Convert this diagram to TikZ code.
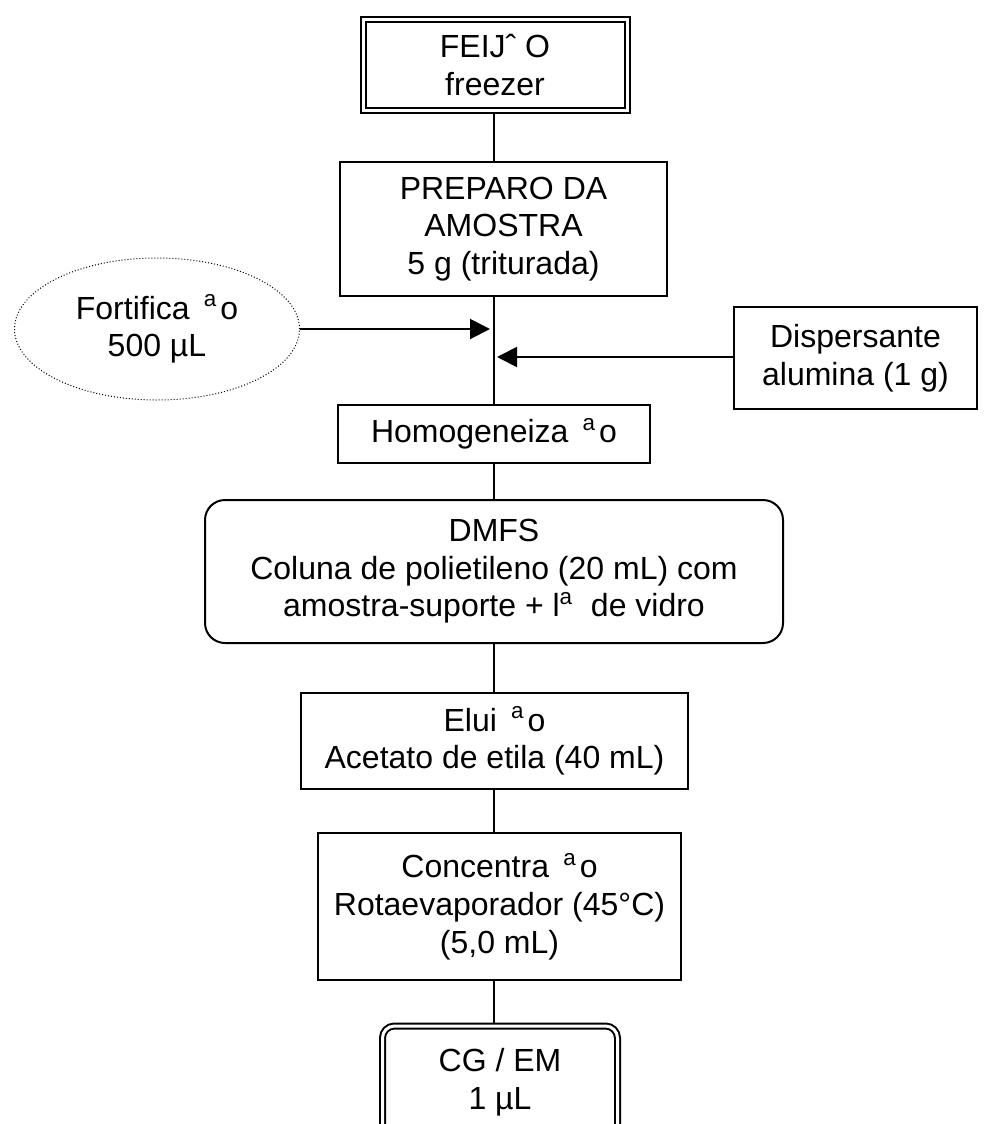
\documentclass[tikz,border=0pt]{standalone}
\usepackage{fontspec}
\setmainfont{Liberation Sans}
\usetikzlibrary{arrows.meta, shapes.geometric}

\newcommand{\ordA}{\textsuperscript{a}}

\begin{document}
\begin{tikzpicture}[x=0.5pt, y=-0.5pt, >={Triangle[length=10pt,width=10pt]},
  every node/.style={font=\fontsize{16}{18.8}\selectfont, align=center, inner sep=0pt},
  box/.style={draw, line width=1pt},
  dbox/.style={draw, line width=1pt, double, double distance=1.5pt, outer sep=1.75pt},
  oval/.style={draw, ellipse, densely dotted, line width=0.5pt},
  flow/.style={line width=1pt}]
  \useasboundingbox (0,0) rectangle (986,1124);
  \coordinate (spine) at (494,0);
  % main column
  \node[dbox, minimum width=132pt, minimum height=45.5pt] (feijao) at (495,65) {FEIJˆ O\\freezer};
  \node[box, minimum width=163.5pt, minimum height=67pt] (preparo) at (503.5,229) {PREPARO DA\\AMOSTRA\\5 g (triturada)};
  \node[box, minimum width=156pt, minimum height=29pt] (homog) at (494,434) {Homogeneiza\ \,\ordA\kern1.5pt o};
  \node[box, rounded corners=10pt, minimum width=289pt, minimum height=71.5pt] (dmfs) at (494,571.5) {DMFS\\Coluna de polietileno (20 mL) com\\amostra-suporte + l\ordA\ \ de vidro};
  \node[box, minimum width=193.5pt, minimum height=48pt] (elui) at (494.5,741) {Elui\ \,\ordA\kern1.5pt o\\Acetato de etila (40 mL)};
  \node[box, minimum width=181.5pt, minimum height=73.5pt] (concentra) at (499.5,906.5) {Concentra\ \,\ordA\kern1.5pt o\\Rotaevaporador (45°C)\\(5,0 mL)};
  \node[dbox, rounded corners=6pt, minimum width=117.5pt, minimum height=56pt] (cgem) at (500,1082) {CG / EM\\1 µL};
  % side inputs
  \node[oval, minimum width=142.5pt, minimum height=71pt] (fortif) at (157,329) {Fortifica\ \,\ordA\kern1.5pt o\\500 µL};
  \node[box, minimum width=121.5pt, minimum height=51pt] (dispers) at (855.5,358) {Dispersante\\alumina (1 g)};
  \coordinate (fortin) at (490,329);
  \coordinate (dispin) at (497,357);
  % connectors
  \draw[flow] (spine |- feijao.south) -- (spine |- preparo.north);
  \draw[flow] (spine |- preparo.south) -- (spine |- homog.north);
  \draw[flow] (spine |- homog.south) -- (spine |- dmfs.north);
  \draw[flow] (spine |- dmfs.south) -- (spine |- elui.north);
  \draw[flow] (spine |- elui.south) -- (spine |- concentra.north);
  \draw[flow] (spine |- concentra.south) -- (spine |- cgem.north);
  \draw[flow, ->] (fortif.east) -- (fortin);
  \draw[flow, ->] (dispin -| dispers.west) -- (dispin);
\end{tikzpicture}
\end{document}
